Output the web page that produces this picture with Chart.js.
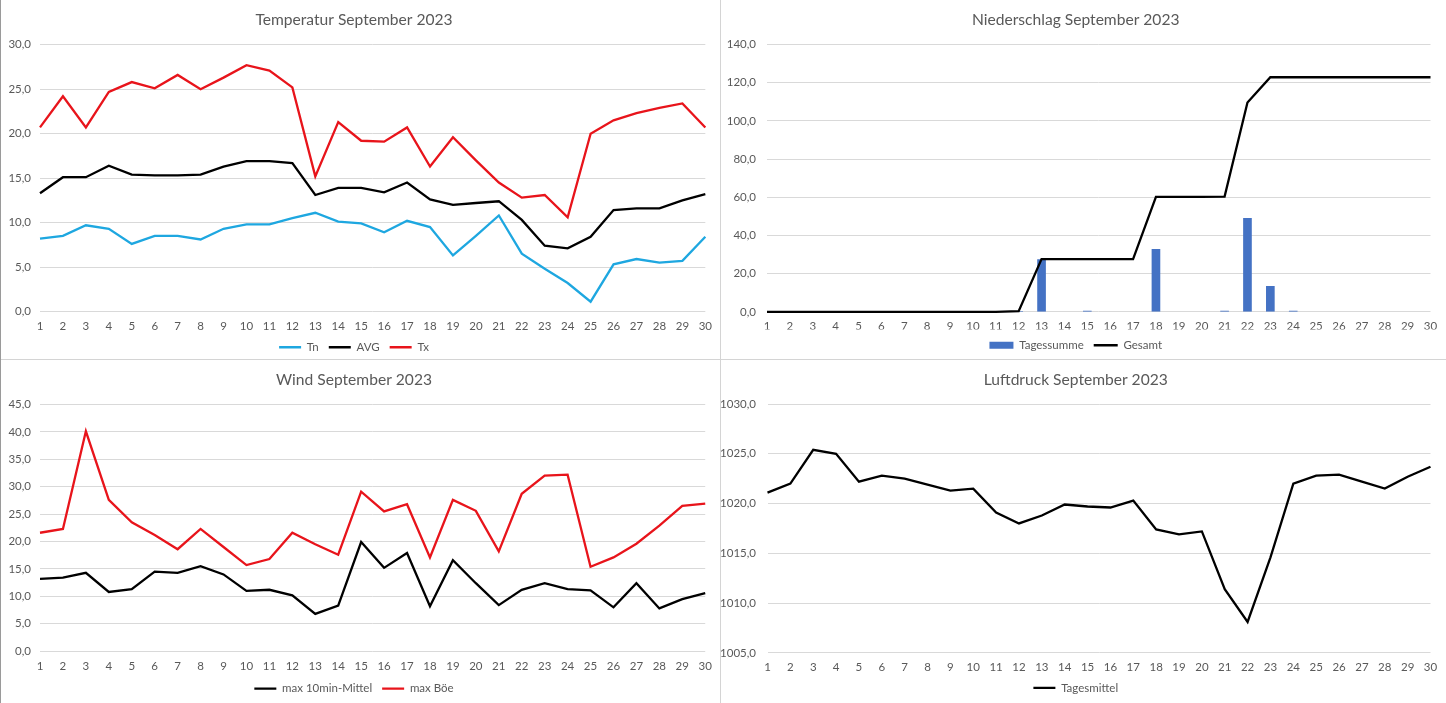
<!DOCTYPE html>
<html>
<head>
<meta charset="utf-8">
<script src="https://cdn.jsdelivr.net/npm/chart.js@4.4.0/dist/chart.umd.min.js"></script>
<style>
  html, body { margin: 0; padding: 0; background: #fff; }
  body { width: 1446px; height: 703px; position: relative; overflow: hidden; }
  .panel { position: absolute; background: #fff; }
  #p1 { left: 1px; top: 0; width: 719px; height: 359px; }
  #p2 { left: 721px; top: 0; width: 725px; height: 359px; }
  #p3 { left: 1px; top: 360px; width: 719px; height: 343px; }
  #p4 { left: 721px; top: 360px; width: 725px; height: 343px; }
  .vline { position: absolute; left: 720px; top: 0; width: 1px; height: 703px; background: #d4d4d4; }
  .hline { position: absolute; left: 0; top: 359px; width: 1446px; height: 1px; background: #d4d4d4; }
  .lborder { position: absolute; left: 0; top: 0; width: 1px; height: 703px; background: #9a9a9a; }
</style>
</head>
<body>
<div class="panel" id="p1"><canvas id="c1"></canvas></div>
<div class="panel" id="p2"><canvas id="c2"></canvas></div>
<div class="panel" id="p3"><canvas id="c3"></canvas></div>
<div class="panel" id="p4"><canvas id="c4"></canvas></div>
<div class="vline"></div>
<div class="hline"></div>
<div class="lborder"></div>
<script>
// ---- categories ----
const days = ['1','2','3','4','5','6','7','8','9','10','11','12','13','14','15','16','17','18','19','20','21','22','23','24','25','26','27','28','29','30'];

// ---- Temperatur (°C) ----
const tempTn  = [8.2,8.5,9.7,9.3,7.6,8.5,8.5,8.1,9.3,9.8,9.8,10.5,11.1,10.1,9.9,8.9,10.2,9.5,6.3,8.5,10.8,6.5,4.8,3.2,1.1,5.3,5.9,5.5,5.7,8.4];
const tempAvg = [13.3,15.1,15.1,16.4,15.4,15.3,15.3,15.4,16.3,16.9,16.9,16.7,13.1,13.9,13.9,13.4,14.5,12.6,12.0,12.2,12.4,10.3,7.4,7.1,8.4,11.4,11.6,11.6,12.5,13.2];
const tempTx  = [20.7,24.2,20.7,24.7,25.8,25.1,26.6,25.0,26.3,27.7,27.1,25.2,15.2,21.3,19.2,19.1,20.7,16.3,19.6,17.0,14.5,12.8,13.1,10.6,20.0,21.5,22.3,22.9,23.4,20.7];

// ---- Niederschlag (mm) ----
const rainDay   = [0,0,0,0,0,0,0,0,0,0,0,0.3,27.3,0,0.4,0,0,32.7,0,0,0.4,49.0,13.3,0.4,0,0,0,0,0,0];
const rainTotal = [0,0,0,0,0,0,0,0,0,0,0,0.3,27.6,27.6,27.6,27.6,27.6,60.2,60.2,60.2,60.3,109.6,122.8,122.8,122.8,122.8,122.8,122.8,122.8,122.8];

// ---- Wind (km/h) ----
const windMean = [13.2,13.4,14.3,10.8,11.3,14.5,14.3,15.5,14.0,11.0,11.2,10.2,6.8,8.3,19.9,15.2,17.9,8.2,16.6,12.4,8.4,11.2,12.4,11.3,11.1,8.0,12.4,7.8,9.5,10.6];
const windGust = [21.6,22.3,40.1,27.6,23.5,21.2,18.6,22.3,19.0,15.7,16.8,21.6,19.5,17.6,29.1,25.5,26.8,17.1,27.6,25.6,18.2,28.7,32.0,32.2,15.4,17.1,19.6,22.9,26.5,26.9];

// ---- Luftdruck (hPa) ----
const pressure = [1021.1,1022.0,1025.4,1025.0,1022.2,1022.8,1022.5,1021.9,1021.3,1021.5,1019.1,1018.0,1018.8,1019.9,1019.7,1019.6,1020.3,1017.4,1016.9,1017.2,1011.4,1008.1,1014.6,1022.0,1022.8,1022.9,1022.2,1021.5,1022.7,1023.7];

// ---- axis ranges ----
const tempAxis = {min: 0, max: 30, step: 5};
const rainAxis = {min: 0, max: 140, step: 20};
const windAxis = {min: 0, max: 45, step: 5};
const presAxis = {min: 1005, max: 1030, step: 5};

const FONT = 'Lato, "Open Sans", "Liberation Sans", sans-serif';
const TXT = '#595959';
const GRID = '#d9d9d9';
const TICK_SIZE = 11.5;
const BAR_BLUE = '#4472c4';
const fmt = v => Number(v).toFixed(1).replace('.', ',');

function lineDs(label, data, color, extra) {
  return Object.assign({
    type: 'line', label, data, borderColor: color, backgroundColor: color,
    borderWidth: 2.3, pointRadius: 0, pointHoverRadius: 0, tension: 0,
    pointStyle: 'line', clip: 6, order: 0
  }, extra || {});
}

function make(id, w, h, cfg) {
  const cv = document.getElementById(id);
  cv.width = w; cv.height = h;
  cv.style.width = w + 'px'; cv.style.height = h + 'px';
  const axis = cfg.axis;
  return new Chart(cv, {
    type: cfg.type || 'line',
    data: { labels: days, datasets: cfg.datasets },
    options: {
      responsive: false,
      animation: false,
      devicePixelRatio: 1,
      layout: { padding: { left: 0, right: cfg.padRight, top: 0, bottom: cfg.padBottom } },
      plugins: {
        title: {
          display: true, text: cfg.title, color: TXT,
          font: { family: FONT, size: 15.6, weight: 'normal', lineHeight: 1.2 },
          padding: { top: cfg.titleTop, bottom: cfg.titleBottom }
        },
        legend: {
          display: true, position: 'bottom',
          labels: {
            color: TXT, font: { family: FONT, size: TICK_SIZE },
            usePointStyle: true, pointStyleWidth: cfg.swatchW || 22,
            boxHeight: cfg.boxH || 12, padding: 10,
            sort: (a, b) => a.datasetIndex - b.datasetIndex,
            generateLabels: chart => {
              const items = Chart.defaults.plugins.legend.labels.generateLabels(chart);
              items.forEach(it => {
                const ds = chart.data.datasets[it.datasetIndex];
                if (ds.type === 'bar') { it.fillStyle = BAR_BLUE; it.strokeStyle = BAR_BLUE; it.lineWidth = 0; }
              });
              return items;
            }
          }
        },
        tooltip: { enabled: false }
      },
      scales: {
        x: {
          type: 'category', offset: false,
          grid: { display: false, drawTicks: false },
          border: { display: false },
          ticks: { color: TXT, font: { family: FONT, size: TICK_SIZE }, padding: cfg.xPad, autoSkip: false, maxRotation: 0, minRotation: 0 },
          afterFit: s => { s.height = cfg.xH; }
        },
        y: {
          min: axis.min, max: axis.max,
          grid: { color: GRID, lineWidth: 1, drawTicks: false },
          border: { display: false },
          ticks: { stepSize: axis.step, color: TXT, font: { family: FONT, size: TICK_SIZE }, padding: cfg.yPad, callback: fmt },
          afterFit: s => { s.width = cfg.yW; }
        }
      }
    }
  });
}

make('c1', 719, 359, {
  title: 'Temperatur September 2023', axis: tempAxis,
  titleTop: 11, titleBottom: 15, padRight: 13, padBottom: -4,
  xPad: 8, xH: 20, yPad: 9, yW: 39,
  datasets: [
    lineDs('Tn', tempTn, '#1ea7e0'),
    lineDs('AVG', tempAvg, '#000000'),
    lineDs('Tx', tempTx, '#e8141b')
  ]
});

make('c2', 725, 359, {
  type: 'bar',
  title: 'Niederschlag September 2023', axis: rainAxis,
  titleTop: 11, titleBottom: 14.7, padRight: 15.5, padBottom: -2,
  xPad: 7.5, xH: 17.7, yPad: 11, yW: 46, swatchW: 24, boxH: 7,
  datasets: [
    { type: 'bar', label: 'Tagessumme', data: rainDay,
      backgroundColor: c => (c.raw ? BAR_BLUE : 'rgba(0,0,0,0)'),
      borderWidth: 0, barThickness: 8, pointStyle: 'rect', order: 1 },
    lineDs('Gesamt', rainTotal, '#000000')
  ]
});

make('c3', 719, 343, {
  title: 'Wind September 2023', axis: windAxis,
  titleTop: 11, titleBottom: 14.7, padRight: 13, padBottom: -1.3,
  xPad: 8.1, xH: 21.6, yPad: 9, yW: 39,
  datasets: [
    lineDs('max 10min-Mittel', windMean, '#000000'),
    lineDs('max Böe', windGust, '#e8141b')
  ]
});

make('c4', 725, 343, {
  title: 'Luftdruck September 2023', axis: presAxis,
  titleTop: 10.3, titleBottom: 15, padRight: 15.5, padBottom: -0.7,
  xPad: 7.2, xH: 19.4, yPad: 11.5, yW: 46.5,
  datasets: [
    lineDs('Tagesmittel', pressure, '#000000')
  ]
});
</script>
</body>
</html>
